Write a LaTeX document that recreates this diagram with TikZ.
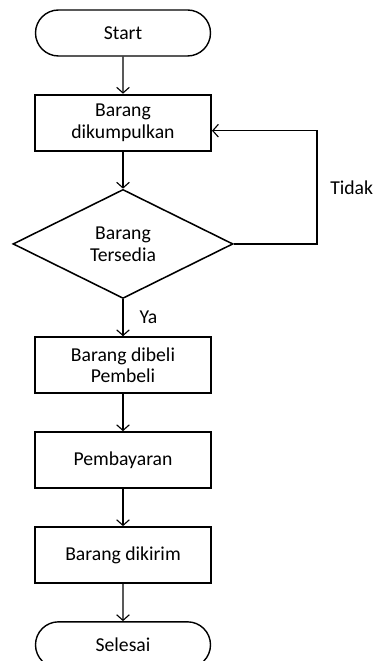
\documentclass[tikz,border=0pt]{standalone}
\usepackage{fontspec}
\setmainfont{Carlito}
\usetikzlibrary{arrows.meta, shapes.geometric, shapes.misc, positioning}

\begin{document}
\begin{tikzpicture}[node distance=0.925cm,
        terminal/.style={draw, rounded rectangle, line width=1pt, minimum width=4.375cm, minimum height=1.15cm, inner sep=0pt},
        proses/.style={draw, rectangle, line width=1.4pt, minimum width=4.4cm, minimum height=1.4cm, inner sep=0pt, align=center},
        keputusan/.style={draw, diamond, line width=1.1pt, minimum width=5.5cm, minimum height=2.725cm, inner sep=0pt, align=center},
        alur/.style={-{Straight Barb[length=4pt, width=9pt]}, line width=0.8pt},
        font=\fontsize{14}{15.5}\selectfont]
        \useasboundingbox (0,0) rectangle (9.3,-16.525);
        \node[terminal] (start) at (3.075,-0.825) {Start};
        \node[proses, below = of start] (kumpul) {Barang\\dikumpulkan};
        \node[keputusan, below = of kumpul] (sedia) {Barang\\Tersedia};
        \node[proses, below = of sedia] (beli) {Barang dibeli\\Pembeli};
        \node[proses, below = of beli] (bayar) {Pembayaran};
        \node[proses, below = of bayar] (kirim) {Barang dikirim};
        \node[terminal, below = of kirim] (selesai) {Selesai};
        \coordinate (sudut) at (7.925,0);
        \coordinate (masuk) at ([yshift=-0.2cm]kumpul.east);
        \node[anchor=west, inner sep=0pt] (tidak) at (8.25,-4.7) {Tidak};

        \draw[alur] (start) -- (kumpul);
        \draw[alur] (kumpul) -- (sedia);
        \draw[alur] (sedia) -- node[right=0.4cm, inner sep=0pt] (ya) {Ya} (beli);
        \draw[alur] (beli) -- (bayar);
        \draw[alur] (bayar) -- (kirim);
        \draw[alur] (kirim) -- (selesai);
        \draw[alur] (sedia.east) -- (sedia.east -| sudut) |- (masuk);
    \end{tikzpicture}
\end{document}
